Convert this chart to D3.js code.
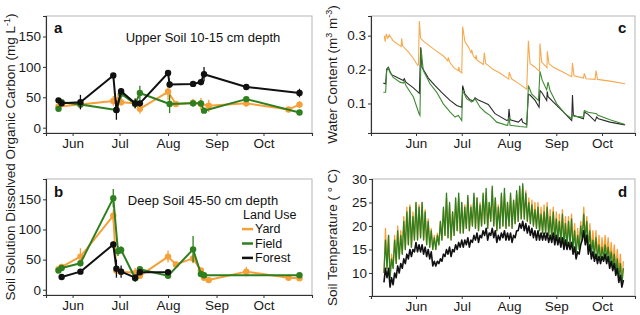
<!DOCTYPE html>
<html>
<head>
<meta charset="utf-8">
<script src="https://cdn.jsdelivr.net/npm/d3@7"></script>
<style>
  html, body { margin: 0; padding: 0; background: #fff; }
  svg { display: block; font-family: 'Liberation Sans', Arial, sans-serif; }
</style>
</head>
<body>
<div id="chart"></div>
<script>
// ---- soil solution DOC, upper soil (panel a): [date, mean, error] ----
const upperYard = [
  ['05-23', 35, 6], ['06-06', 38, 6], ['06-27', 44, 8], ['06-30', 45, 12], ['07-02', 42, 6],
  ['07-11', 40, 8], ['07-14', 31, 8], ['08-01', 59, 14], ['08-06', 39, 4], ['08-17', 41, 6],
  ['08-22', 39, 10], ['08-27', 36, 10], ['09-20', 40, 6], ['10-17', 30, 4], ['10-24', 38, 6]
];
const upperField = [
  ['05-23', 31, 3], ['05-25', 42, 4], ['06-06', 38, 5], ['06-29', 29, 5], ['07-02', 56, 8],
  ['07-11', 39, 6], ['07-14', 57, 12], ['08-02', 39, 15], ['08-17', 40, 5], ['08-22', 40, 5],
  ['08-24', 28, 4], ['09-20', 47, 3], ['10-24', 25, 3]
];
const upperForest = [
  ['05-23', 45, 4], ['05-25', 40, 3], ['06-06', 42, 12], ['06-27', 86, 4], ['06-29', 29, 16],
  ['07-02', 60, 5], ['07-11', 40, 8], ['07-14', 40, 5], ['08-01', 90, 5], ['08-02', 71, 6],
  ['08-17', 72, 5], ['08-22', 75, 5], ['08-24', 88, 12], ['09-20', 67, 5], ['10-24', 57, 7]
];

// ---- soil solution DOC, deep soil (panel b) ----
const deepYard = [
  ['05-23', 34, 4], ['05-25', 38, 5], ['06-06', 55, 14], ['06-27', 123, 10], ['06-29', 32, 5],
  ['07-02', 30, 5], ['07-11', 28, 8], ['07-14', 23, 5], ['08-01', 55, 10], ['08-06', 42, 5],
  ['08-17', 52, 8], ['08-22', 32, 5], ['08-24', 20, 4], ['08-27', 16, 3], ['09-20', 30, 8],
  ['10-17', 20, 4], ['10-24', 19, 4]
];
const deepField = [
  ['05-23', 32, 4], ['05-25', 36, 4], ['06-06', 44, 5], ['06-27', 152, 15], ['06-30', 64, 8],
  ['07-02', 66, 6], ['07-11', 19, 6], ['07-14', 34, 4], ['08-01', 23, 4], ['08-17', 67, 22],
  ['08-22', 26, 4], ['08-24', 24, 3], ['10-24', 24, 3]
];
const deepForest = [
  ['05-25', 21, 3], ['06-06', 30, 3], ['06-27', 75, 5], ['06-29', 35, 15], ['07-02', 30, 10],
  ['07-11', 20, 5], ['07-14', 29, 4], ['08-01', 29, 4]
];

// ---- volumetric water content (panel c): [day of year, m3/m3] ----
const waterYard = [
  [131.2,.300],[131.8,.282],[132.5,.305],[133.5,.292],[134.5,.302],[137,.285],[140,.275],[142.3,.268],
  [142.6,.292],[143.2,.270],[147,.252],[150,.235],[153.1,.212],[153.6,.214],[154.2,.343],[155,.293],
  [157,.283],[160,.273],[165,.256],[170,.240],[172.8,.226],[173.2,.236],[174,.222],[177,.205],
  [179.8,.197],[180.1,.208],[180.6,.195],[182,.190],[182.6,.327],[184.1,.282],[186.3,.267],[188.1,.250],
  [188.5,.258],[189.6,.240],[191.1,.232],[191.4,.243],[192,.228],[196.2,.215],[196.8,.250],[197.7,.218],
  [202.7,.200],[207,.190],[212.8,.172],[213.1,.192],[214.8,.172],[219,.160],[224.6,.142],[225.7,.285],
  [226.8,.217],[230.1,.207],[232.3,.197],[233.0,.196],[233.3,.277],[234.4,.222],[236.6,.212],[237.9,.205],
  [238.1,.254],[239.2,.217],[242.1,.207],[248.6,.192],[254.1,.179],[254.6,.219],[255.6,.182],[261.8,.175],
  [262.4,.189],[263.5,.173],[269.4,.171],[270.1,.197],[271,.171],[279.2,.166],[289.1,.158]
];
const waterField = [
  [130.6,.133],[132.1,.133],[132.8,.197],[133.9,.204],[134.9,.192],[137.1,.177],[141.5,.163],[143.7,.160],
  [144.3,.166],[145.4,.153],[150.3,.119],[154,.070],[154.6,.065],[155.3,.261],[156.8,.197],[161.2,.158],
  [165.6,.133],[169.9,.099],[174.3,.075],[177.6,.060],[179.8,.065],[182,.050],[182.6,.138],[185.2,.114],
  [188.5,.104],[190.7,.114],[194,.089],[197.3,.075],[200.5,.065],[204.9,.045],[212.1,.035],[213,.060],
  [213.7,.036],[220.2,.032],[224.6,.030],[225.7,.153],[227.8,.128],[232.3,.109],[233.3,.195],[234.8,.168],
  [237.7,.140],[238.6,.163],[239.9,.138],[244.3,.099],[249.7,.070],[254.1,.055],[254.6,.065],[256.3,.062],
  [261.8,.060],[262.4,.079],[264.9,.074],[270.5,.070],[271,.066],[279.2,.052],[289.1,.038]
];
const waterForest = [
  [130.6,.160],[132.1,.158],[132.8,.202],[133.9,.207],[134.9,.195],[136,.185],[140.4,.175],[143.7,.168],
  [144.3,.173],[145.4,.163],[150.3,.146],[154.2,.130],[155.1,.266],[155.9,.207],[157.9,.192],[160.1,.175],
  [164.5,.153],[168.8,.133],[174.3,.109],[178.7,.094],[182,.089],[182.6,.153],[184.1,.128],[187.4,.111],
  [189.6,.108],[190.7,.117],[192.9,.110],[196.2,.104],[199.4,.097],[203.8,.070],[211.5,.050],[212.5,.052],
  [213,.084],[213.7,.052],[219.1,.045],[221.3,.055],[221.9,.045],[224.6,.038],[225.7,.127],[226.8,.125],
  [230.1,.109],[232.7,.089],[233.3,.138],[234.4,.133],[237.7,.109],[238.1,.135],[238.6,.120],[242.1,.104],
  [248.6,.075],[253,.055],[254.1,.050],[254.6,.125],[255.2,.065],[261.8,.055],[262.4,.075],[264.9,.068],
  [269.4,.048],[270.5,.060],[271.6,.055],[279.2,.045],[289.1,.037]
];

// ---- soil temperature (panel d): 2-day steps from day 131, low then high ----
const tempStartDoy = 131;
const tempYardLo = [10,11,9,11,12,13,14,15,16,15.5,17,17,17.5,17,16,15.5,15,15,16,17,18,17.5,17,18,19,18.5,18.5,19.5,19,20,19.5,19,20,20.5,19.5,21,20,19,19.5,20,19.5,20,19.5,20.5,21,21.5,21.5,21,20.5,20,19.5,19,18.5,18.5,18,17.5,17,17,16.5,16,15.5,16,15,14.5,15,17.5,17,15.5,14.5,14,13.5,13,13.5,13.5,12.5,12,11,10,8.5];
const tempYardHi = [19.5,18,14,18,20,19,22,24,24.5,23,25,24.5,25,23.5,21.5,19.5,18,18.5,21,23.5,26,24.5,23,25,26,25,24.5,26,24.5,26.5,26,25,26.5,27,25,27.5,26,24.5,26.5,27,25,26.5,25.5,27,28,28.5,27.5,26,25.5,25,25,24,24.5,25,23.5,24,23,22.5,23.5,22,22,22.5,20.5,19.5,21,24,22,20.5,19,19,18,17.5,18,17.5,16.5,16,15,14,12.5];
const tempFieldLo = [10,11,9,11,12,13,14,15,16,15.5,17,17,17.5,17,16,15.5,15,15,16,17,18,17.5,17,18,19,18.5,18.5,19.5,19,20,19.5,19,20,20.5,19.5,21,20,19,19.5,20,19.5,20,19.5,20.5,21,21.5,21.5,21,20.5,20,19.5,19,18.5,18.5,18,17.5,17,17,16.5,16,15.5,16,15,14,15,17,17,15,14,13.5,13,12.5,13,13,12,11,10,8.5,7.5];
const tempFieldHi = [17,18,13,17,19,18,21,23,24,22,25,24,25,23,21,19,17.5,18,21,24,27,25,23,26,27,25,24,26.5,24,27,26,24.5,27,28,25,28.5,26,24,27,28,25,27,25.5,27.5,28.5,29,27,25,24.5,23.5,24,22.5,23,24,22,23,21.5,21,22.5,20.5,21,21.5,19,18,20,22.5,21,19,17,17.5,16,15.5,16,15.5,14.5,14,13,12,11];
const tempForestLo = [8,9,7,7.5,9,10,11,12,13,13.5,14.5,14.5,14.5,14,13.5,13,11.5,11.5,12,12.5,13.5,14,13.5,14.5,15,15.5,15.5,16,15.5,16.5,17,16.5,17.5,18,17,18,17.5,16.5,17,17.5,17,17,16.5,17.5,19,19.5,19,18.5,18,17.5,17,17,17,17,16.5,16.5,16,16,15.5,15,15,15,14,13,14,17,16,14,13,12.5,12,12,12.5,12,11,10.5,9.5,8,7];
const tempForestHi = [11,11,9,10,11.5,12,13,14,15,15,16.5,16,16,15.5,15,14.5,12.5,12.5,13,14,15,15.5,15,16,16.5,17,17,17.5,17,18,18.5,18,19,19.5,18.5,19.5,19,18,18.5,19,18.5,18.5,18,19,20.5,21,20.5,20,19.5,19,19,18.5,18.5,18.5,18,18.5,18,17.5,17.5,17,16.5,16.5,15.5,14.5,16,19,18,16,14.5,14,13.5,13.5,14,13.5,12.5,12,11,9.5,8.5];

const monthTicks = ['06-01', '07-01', '08-01', '09-01', '10-01'];
const docTicks = [0, 50, 100, 150];
const waterTicks = [0.1, 0.2, 0.3];
const tempTicks = [10, 15, 20, 25, 30];
const landUse = ['Yard', 'Field', 'Forest'];

const COL = { Yard: '#F7A03A', Field: '#2E7F1F', Forest: '#111111' };
const COL_C = { Yard: '#F6A94F', Field: '#3F8A33', Forest: '#2b2b2b' };
const YEAR = 2014;

const parseMD = d3.timeParse('%Y-%m-%d');
const md = s => parseMD(`${YEAR}-${s}`);
const doy = n => new Date(new Date(YEAR, 0, 1).getTime() + (n - 1) * 864e5);

const W = 640, H = 315;
const svg = d3.select('#chart').append('svg').attr('width', W).attr('height', H);

function frame(box, x, y, yTickVals, yFmt) {
  const g = svg.append('g');
  g.append('rect').attr('x', box.x0).attr('y', box.y0)
    .attr('width', box.x1 - box.x0).attr('height', box.y1 - box.y0)
    .attr('fill', 'none').attr('stroke', '#b5b5b5').attr('stroke-width', 1);
  const ax = g.append('g').attr('transform', `translate(0,${box.y1})`)
    .call(d3.axisBottom(x).tickValues(monthTicks.map(md)).tickFormat(d3.timeFormat('%b'))
      .tickSize(3).tickPadding(2));
  const ay = g.append('g').attr('transform', `translate(${box.x0},0)`)
    .call(d3.axisLeft(y).tickValues(yTickVals).tickFormat(yFmt).tickSize(3).tickPadding(2));
  [ax, ay].forEach(a => {
    a.select('.domain').attr('stroke', '#333').attr('stroke-width', 1.1);
    a.selectAll('.tick line').attr('stroke', '#333');
    a.selectAll('text').attr('fill', '#1a1a1a').style('font-size', '13.5px')
      .style('font-family', "'Liberation Sans', Arial, sans-serif");
  });
  return g;
}

function tag(x, y, t) {
  svg.append('text').attr('x', x).attr('y', y).text(t)
    .style('font-size', '15px').style('font-weight', 'bold').attr('fill', '#111');
}

// ---- panels a and b ----
const boxA = { x0: 46, x1: 312, y0: 16, y1: 133 };
const boxB = { x0: 46, x1: 312, y0: 179, y1: 295 };
const xAB = d3.scaleTime().domain([md('05-15'), md('11-01')]).range([boxA.x0, boxA.x1]);

function docPanel(box, series, title) {
  const y = d3.scaleLinear().domain([-8.75, 183.75]).range([box.y1, box.y0]);
  frame(box, xAB, y, docTicks, d3.format('d'));
  const g = svg.append('g');
  const line = d3.line().x(d => xAB(md(d[0]))).y(d => y(d[1]));
  series.forEach(([name, data]) => {
    const c = COL[name];
    g.append('path').datum(data).attr('d', line).attr('fill', 'none')
      .attr('stroke', c).attr('stroke-width', 2).attr('stroke-linejoin', 'round');
    g.selectAll(null).data(data).enter().append('line')
      .attr('x1', d => xAB(md(d[0]))).attr('x2', d => xAB(md(d[0])))
      .attr('y1', d => y(d[1] - d[2])).attr('y2', d => y(d[1] + d[2]))
      .attr('stroke', c).attr('stroke-width', 1.3);
    g.selectAll(null).data(data).enter().append('circle')
      .attr('cx', d => xAB(md(d[0]))).attr('cy', d => y(d[1])).attr('r', 3.2).attr('fill', c);
  });
  svg.append('text').attr('x', 203).attr('y', box.y0 + 26).attr('text-anchor', 'middle')
    .style('font-size', '13px').attr('fill', '#111').text(title);
}

docPanel(boxA, [['Yard', upperYard], ['Field', upperField], ['Forest', upperForest]], 'Upper Soil 10-15 cm depth');
tag(54, 33, 'a');
docPanel(boxB, [['Yard', deepYard], ['Field', deepField], ['Forest', deepForest]], 'Deep Soil 45-50 cm depth');
tag(54, 197, 'b');

// legend (sits over the plot area, as in the original)
const lg = svg.append('g').attr('transform', 'translate(242,219)');
lg.append('text').attr('x', 1).attr('y', 0).style('font-size', '12.5px').attr('fill', '#111').text('Land Use');
landUse.forEach((k, i) => {
  const yy = 14.4 * (i + 1);
  lg.append('line').attr('x1', 0).attr('x2', 11).attr('y1', yy - 4.3).attr('y2', yy - 4.3)
    .attr('stroke', COL[k]).attr('stroke-width', 2.5);
  lg.append('text').attr('x', 13).attr('y', yy).style('font-size', '12.5px').attr('fill', '#111').text(k);
});

// shared y title
const yt = svg.append('text').attr('transform', 'translate(15,157) rotate(-90)')
  .attr('text-anchor', 'middle').style('font-size', '13.5px').attr('fill', '#1a1a1a');
yt.append('tspan').text('Soil Solution Dissolved Organic Carbon (mg L');
yt.append('tspan').attr('dy', -5).style('font-size', '9px').text('-1');
yt.append('tspan').attr('dy', 5).text(')');

// ---- panel c ----
const boxC = { x0: 371, x1: 635, y0: 16, y1: 133 };
const xCD = d3.scaleTime().domain([doy(122.5), doy(295.6)]).range([boxC.x0, boxC.x1]);
{
  const y = d3.scaleLinear().domain([0.013, 0.358]).range([boxC.y1, boxC.y0]);
  frame(boxC, xCD, y, waterTicks, d3.format('.1f'));
  const line = d3.line().x(d => xCD(doy(d[0]))).y(d => y(d[1]));
  [['Yard', waterYard], ['Forest', waterForest], ['Field', waterField]].forEach(([k, data]) => {
    svg.append('path').datum(data).attr('d', line).attr('fill', 'none')
      .attr('stroke', COL_C[k]).attr('stroke-width', 1.1);
  });
  tag(618, 33, 'c');
  const t = svg.append('text').attr('transform', 'translate(337,74.5) rotate(-90)')
    .attr('text-anchor', 'middle').style('font-size', '13.5px').attr('fill', '#1a1a1a');
  t.append('tspan').text('Water Content (m');
  t.append('tspan').attr('dy', -5).style('font-size', '9px').text('3');
  t.append('tspan').attr('dy', 5).text(' m');
  t.append('tspan').attr('dy', -5).style('font-size', '9px').text('-3');
  t.append('tspan').attr('dy', 5).text(')');
}

// ---- panel d ----
const boxD = { x0: 372, x1: 635, y0: 179, y1: 296 };
{
  const y = d3.scaleLinear().domain([5.1, 30]).range([boxD.y1, boxD.y0]);
  frame(boxD, xCD, y, tempTicks, d3.format('d'));
  const zig = (lo, hi) => lo.flatMap((v, i) => [
    [tempStartDoy + 2 * i, v], [tempStartDoy + 2 * i + 1, hi[i]]
  ]);
  const line = d3.line().x(d => xCD(doy(d[0]))).y(d => y(d[1]));
  [['Yard', tempYardLo, tempYardHi, 1.3], ['Field', tempFieldLo, tempFieldHi, 1.3], ['Forest', tempForestLo, tempForestHi, 1.6]]
    .forEach(([k, lo, hi, sw]) => {
      svg.append('path').datum(zig(lo, hi)).attr('d', line).attr('fill', 'none')
        .attr('stroke', COL[k]).attr('stroke-width', sw).attr('stroke-linejoin', 'round');
    });
  tag(618, 197, 'd');
  svg.append('text').attr('transform', 'translate(337,237.5) rotate(-90)')
    .attr('text-anchor', 'middle').style('font-size', '13.5px').attr('fill', '#1a1a1a')
    .text('Soil Temperature ( \u00B0 C)');
}
</script>
</body>
</html>
